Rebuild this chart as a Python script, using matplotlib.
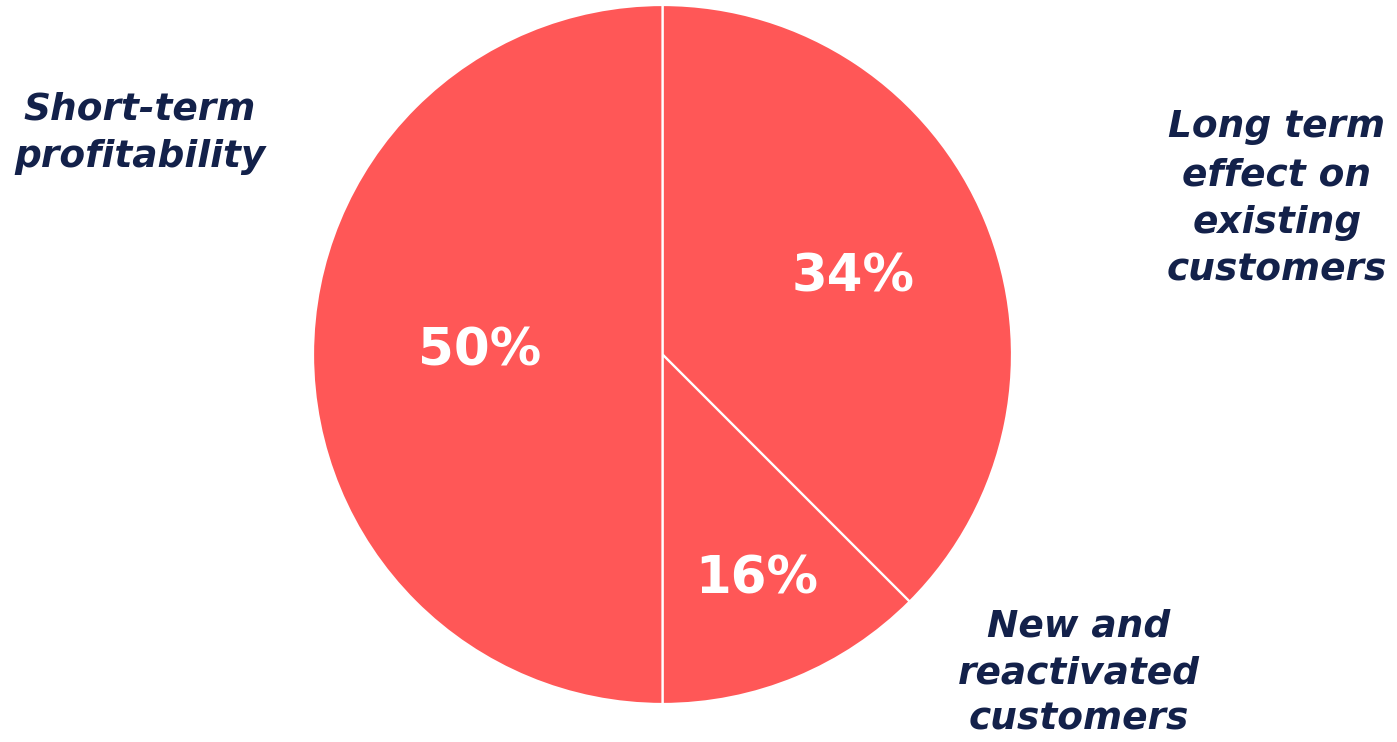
import matplotlib
matplotlib.use("Agg")
import matplotlib.pyplot as plt

RED, NAVY = "#FF5757", "#13214A"

labels = ["Long term\neffect on\nexisting\ncustomers",
          "New and\nreactivated\ncustomers",
          "Short-term\nprofitability"]
# slice sizes as drawn in the picture, and the percentages printed on them
shares = [37.5, 12.5, 50]
pct_text = ["34%", "16%", "50%"]

W, H = 1397, 742
fig = plt.figure(figsize=(W / 100, H / 100), dpi=100)
ax = fig.add_axes([0, 0, 1, 1])

cx, cy, r = 662.5, H - 354.5, 349.5
ax.pie(shares, colors=[RED] * 3, startangle=90, counterclock=False,
       center=(cx, cy), radius=r, frame=True,
       wedgeprops=dict(edgecolor="white", linewidth=1.6))
ax.set_xlim(0, W); ax.set_ylim(0, H)
ax.set_aspect("equal")
ax.axis("off")

# percent labels inside slices
pct_pos = [(853, 278), (757, 580), (480, 352)]
for t, (x, y) in zip(pct_text, pct_pos):
    ax.text(x, H - y, t, color="white", fontsize=37, fontweight="bold",
            ha="center", va="center", family="DejaVu Sans")

# outer category labels
lab_pos = [(1277, 199), (1079, 673), (140, 133)]
spacing = [1.42, 1.38, 1.42]
for t, (x, y), ls in zip(labels, lab_pos, spacing):
    ax.text(x, H - y, t, color=NAVY, fontsize=27, fontweight="bold", style="italic",
            ha="center", va="center", linespacing=ls, family="DejaVu Sans")

fig.savefig("out.png", dpi=100, facecolor="white")
